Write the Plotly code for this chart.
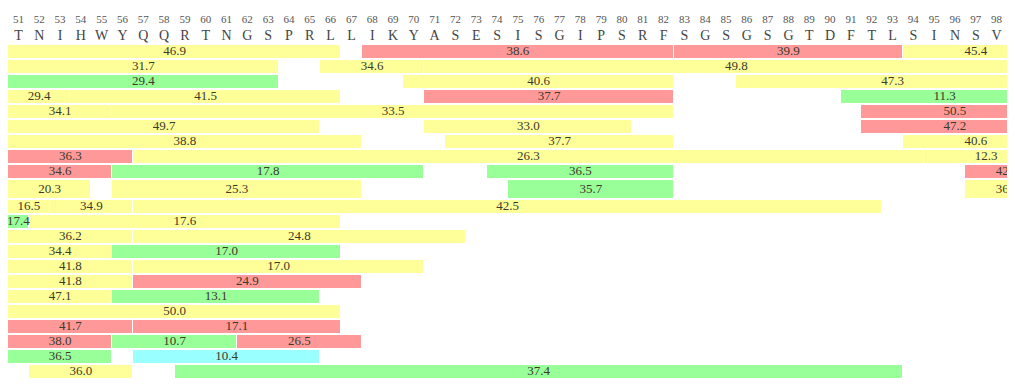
import plotly.graph_objects as go

# ---- data ----
residue_numbers = list(range(51, 99))
residue_letters = list("TNIHWYQQRTNGSPRLLIKYASESISGIPSRFSGSGSGTDFTLSINSV")

# segments: row index, first residue, last residue, value, colour class
seg_row = [0, 0, 0, 0,
           1, 1, 1,
           2, 2, 2,
           3, 3, 3, 3,
           4, 4, 4,
           5, 5, 5,
           6, 6, 6,
           7, 7, 7,
           8, 8, 8, 8,
           9, 9, 9, 9,
           10, 10, 10,
           11, 11,
           12, 12,
           13, 13,
           14, 14,
           15, 15,
           16, 16,
           17,
           18, 18,
           19, 19, 19,
           20, 20,
           21, 21]
seg_start = [51, 68, 83, 94,
             51, 66, 71,
             51, 70, 86,
             51, 54, 71, 91,
             51, 56, 92,
             51, 71, 92,
             51, 72, 94,
             51, 57, 95,
             51, 56, 74, 97,
             51, 56, 75, 97,
             51, 53, 57,
             51, 52,
             51, 57,
             51, 56,
             51, 57,
             51, 57,
             51, 56,
             51,
             51, 57,
             51, 56, 62,
             51, 57,
             52, 59]
seg_end = [66, 82, 93, 100,
           63, 70, 100,
           63, 82, 100,
           53, 66, 82, 100,
           55, 82, 100,
           65, 80, 100,
           67, 82, 100,
           56, 94, 100,
           55, 70, 82, 100,
           54, 67, 82, 100,
           52, 56, 92,
           51, 66,
           56, 72,
           55, 66,
           56, 70,
           56, 67,
           55, 65,
           66,
           56, 66,
           55, 61, 67,
           55, 65,
           56, 93]
seg_value = [46.9, 38.6, 39.9, 45.4,
             31.7, 34.6, 49.8,
             29.4, 40.6, 47.3,
             29.4, 41.5, 37.7, 11.3,
             34.1, 33.5, 50.5,
             49.7, 33.0, 47.2,
             38.8, 37.7, 40.6,
             36.3, 26.3, 12.3,
             34.6, 17.8, 36.5, 42.3,
             20.3, 25.3, 35.7, 36.2,
             16.5, 34.9, 42.5,
             17.4, 17.6,
             36.2, 24.8,
             34.4, 17.0,
             41.8, 17.0,
             41.8, 24.9,
             47.1, 13.1,
             50.0,
             41.7, 17.1,
             38.0, 10.7, 26.5,
             36.5, 10.4,
             36.0, 37.4]
seg_class = ["Y", "R", "R", "Y",
             "Y", "Y", "Y",
             "G", "Y", "Y",
             "Y", "Y", "R", "G",
             "Y", "Y", "R",
             "Y", "Y", "R",
             "Y", "Y", "Y",
             "R", "Y", "Y",
             "R", "G", "G", "R",
             "Y", "Y", "G", "Y",
             "Y", "Y", "Y",
             "G", "Y",
             "Y", "Y",
             "Y", "G",
             "Y", "Y",
             "Y", "R",
             "Y", "G",
             "Y",
             "R", "R",
             "R", "G", "R",
             "G", "C",
             "Y", "G"]

# ---- styling / layout ----
class_colors = {"Y": "#FFFF99", "R": "#FF9999", "G": "#99FF99", "C": "#99FFFF"}
n_rows = 22
tall_row = 9
row_pitch = [20 if k == tall_row else 15 for k in range(n_rows)]
row_top = []
acc = 45
for p in row_pitch:
    row_top.append(acc)
    acc += p
bar_h = [p - 1.5 for p in row_pitch]
row_center = [row_top[k] + bar_h[k] / 2 for k in range(n_rows)]

# page has an 8px body margin; figure sized to fit without scrollbars
PAGE_OFF = 8
FIG_W = 999
FIG_H = 370

fig = go.Figure()

for cls, col in class_colors.items():
    idx = [i for i, c in enumerate(seg_class) if c == cls]
    if not idx:
        continue
    fig.add_trace(go.Bar(
        orientation="h",
        y=[row_center[seg_row[i]] for i in idx],
        base=[seg_start[i] - 0.5 for i in idx],
        x=[seg_end[i] - seg_start[i] + 1 for i in idx],
        width=[bar_h[seg_row[i]] for i in idx],
        marker=dict(color=col, line=dict(color="white", width=1)),
        hoverinfo="skip",
        showlegend=False,
    ))

# value labels
fig.add_trace(go.Scatter(
    x=[(seg_start[i] + seg_end[i]) / 2 for i in range(len(seg_value))],
    y=[row_center[r] for r in seg_row],
    mode="text",
    text=[f"{v:.1f}" for v in seg_value],
    textfont=dict(family="Liberation Serif, DejaVu Serif, serif", size=13, color="#3a3a2a"),
    textposition="middle center",
    cliponaxis=True,
    hoverinfo="skip",
    showlegend=False,
))

# residue numbers
fig.add_trace(go.Scatter(
    x=residue_numbers,
    y=[20] * len(residue_numbers),
    mode="text",
    text=[str(n) for n in residue_numbers],
    textfont=dict(family="Liberation Serif, DejaVu Serif, serif", size=11, color="#555555"),
    hoverinfo="skip",
    showlegend=False,
))

# residue letters
fig.add_trace(go.Scatter(
    x=residue_numbers,
    y=[36] * len(residue_numbers),
    mode="text",
    text=residue_letters,
    textfont=dict(family="Liberation Serif, DejaVu Serif, serif", size=14, color="#444444"),
    hoverinfo="skip",
    showlegend=False,
))

fig.update_layout(
    width=FIG_W,
    height=FIG_H,
    margin=dict(l=0, r=0, t=0, b=0),
    paper_bgcolor="white",
    plot_bgcolor="white",
    barmode="overlay",
    bargap=0,
    xaxis=dict(range=[50.5, 98.5], visible=False, fixedrange=True),
    yaxis=dict(range=[PAGE_OFF + FIG_H, PAGE_OFF], visible=False, fixedrange=True),
)

fig.write_html("out.html", config={"displayModeBar": False})
